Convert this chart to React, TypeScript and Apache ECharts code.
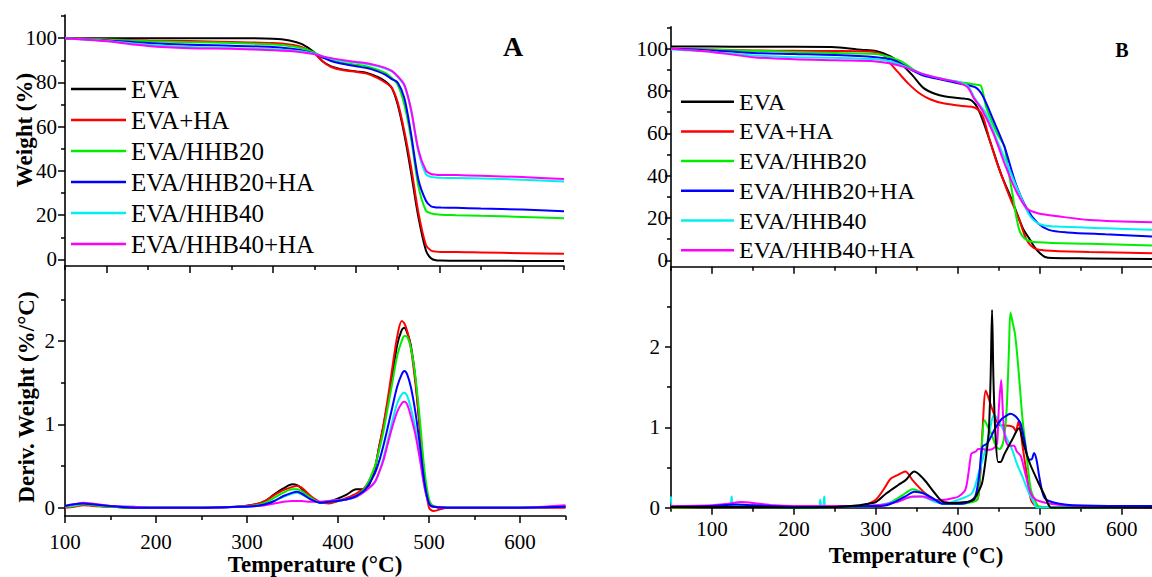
import React, { useEffect, useRef } from "react";
import * as echarts from "echarts";

const FONT = "Liberation Serif";

const NAMES = ["EVA", "EVA+HA", "EVA/HHB20", "EVA/HHB20+HA", "EVA/HHB40", "EVA/HHB40+HA"];
const COLORS = ["#000000", "#ff0000", "#00ee00", "#0000ff", "#00f0f0", "#ff00ff"];

// ---- tick values ----
const weightMajor = [0, 20, 40, 60, 80, 100];
const weightMinor = [10, 30, 50, 70, 90, 110];
const derivMajor = [0, 1, 2];
const derivMinor = [0.5, 1.5, 2.5];
const tempMajor = [100, 200, 300, 400, 500, 600];
const tempMinor = [50, 150, 250, 350, 450, 550, 650];

// ---- Panel A, weight (TGA) ----
const tA = [50, 100, 150, 200, 250, 300, 320, 335, 350, 360, 370, 385, 400, 413, 426, 435, 443, 450, 458, 466, 475, 484, 490, 496, 502, 520, 550, 600, 650];
const aW_EVA = [100, 100, 100, 100, 100, 99.8, 99, 97.3, 93.5, 89.5, 87.3, 85.8, 85, 84.3, 82.5, 80.5, 77.5, 70, 56.5, 39.5, 19, 4, 0.5, -0.4, -0.5, -0.6, -0.6, -0.7, -0.7];
const aW_EVAHA = [100, 99.5, 99, 98.7, 98.3, 97.8, 97.2, 96, 93, 89.5, 87, 85.5, 84.8, 84, 82, 80, 77.5, 71, 58, 42, 21, 6.5, 4, 3.5, 3.3, 3.3, 3.1, 2.8, 2.5];
const aW_H20 = [100, 99.3, 98.6, 98.2, 97.8, 97.2, 96.5, 95.5, 93.5, 91.5, 90, 88.8, 88, 87.2, 85.8, 84.3, 82, 79, 70, 55, 33, 22, 20.8, 20.4, 20.2, 20, 19.7, 19.2, 18.6];
const aW_H20HA = [100, 99, 97.8, 97, 96.6, 96, 95.3, 94.5, 93, 91.3, 89.7, 88.3, 87.3, 86.5, 85, 83.5, 81.5, 80, 73, 57, 36, 26.5, 24, 23.5, 23.4, 23.3, 23, 22.5, 21.8];
const aW_H40 = [100, 98.8, 97, 96, 95.5, 95, 94.5, 94, 93, 91.8, 90.8, 89.7, 89, 88.3, 87.3, 86.3, 85, 82.5, 78.5, 67.5, 48.5, 38.5, 37.3, 37, 36.9, 36.8, 36.6, 36, 35.2];
const aW_H40HA = [100, 98.6, 96.5, 95.5, 95.2, 94.6, 94.2, 93.6, 92.8, 91.8, 91, 90, 89.3, 88.7, 87.6, 86.6, 85.2, 82.8, 79, 68, 49.5, 40.2, 38.6, 38.3, 38.2, 38.1, 37.8, 37.2, 36.3];

// ---- Panel A, derivative weight (DTG) ----
const tAD = [100, 110, 120, 130, 150, 175, 200, 250, 290, 310, 320, 330, 340, 350, 355, 360, 370, 380, 390, 400, 410, 420, 430, 440, 445, 450, 455, 460, 465, 470, 473, 476, 480, 485, 490, 495, 500, 505, 520, 550, 575, 600, 650];
const aD_EVA = [0.01, 0.02, 0.04, 0.03, 0.01, 0, 0, 0, 0.01, 0.04, 0.08, 0.16, 0.23, 0.28, 0.27, 0.23, 0.12, 0.06, 0.07, 0.11, 0.16, 0.22, 0.22, 0.45, 0.72, 0.98, 1.28, 1.6, 1.95, 2.13, 2.16, 2.1, 1.95, 1.55, 0.95, 0.38, 0.05, 0.01, 0, 0, 0, 0, 0.01];
const aD_EVAHA = [0, 0.01, 0.03, 0.02, 0.01, 0, 0, 0, 0.01, 0.04, 0.08, 0.15, 0.21, 0.25, 0.26, 0.24, 0.14, 0.07, 0.05, 0.08, 0.12, 0.17, 0.25, 0.47, 0.72, 1.0, 1.33, 1.7, 2.05, 2.24, 2.21, 2.12, 1.92, 1.5, 0.95, 0.35, 0, -0.04, 0, 0, 0, 0, 0];
const aD_H20 = [0.01, 0.02, 0.04, 0.03, 0.01, 0, 0, 0, 0.01, 0.03, 0.06, 0.12, 0.18, 0.22, 0.22, 0.2, 0.12, 0.06, 0.07, 0.08, 0.1, 0.14, 0.24, 0.48, 0.68, 0.92, 1.22, 1.52, 1.82, 2.0, 2.06, 2.05, 1.92, 1.58, 1.05, 0.45, 0.1, 0.02, 0, 0, 0, 0, 0.01];
const aD_H20HA = [0.02, 0.04, 0.05, 0.04, 0.02, 0, 0, 0, 0.01, 0.02, 0.04, 0.08, 0.14, 0.18, 0.19, 0.17, 0.1, 0.06, 0.07, 0.08, 0.1, 0.14, 0.22, 0.4, 0.55, 0.75, 0.98, 1.22, 1.45, 1.6, 1.64, 1.6, 1.45, 1.15, 0.75, 0.3, 0.05, 0.01, 0, 0, 0, 0, 0.01];
const aD_H40 = [0.02, 0.03, 0.05, 0.04, 0.02, 0.01, 0, 0, 0.01, 0.02, 0.04, 0.08, 0.13, 0.17, 0.18, 0.16, 0.1, 0.07, 0.08, 0.09, 0.1, 0.13, 0.2, 0.3, 0.42, 0.6, 0.82, 1.05, 1.25, 1.36, 1.38, 1.34, 1.2, 0.95, 0.62, 0.25, 0.05, 0.01, 0, 0, 0, 0, 0.02];
const aD_H40HA = [0.02, 0.04, 0.06, 0.05, 0.02, 0.01, 0, 0, 0.01, 0.02, 0.03, 0.05, 0.07, 0.08, 0.08, 0.08, 0.07, 0.07, 0.08, 0.09, 0.1, 0.13, 0.2, 0.3, 0.42, 0.57, 0.78, 0.98, 1.15, 1.25, 1.27, 1.24, 1.1, 0.88, 0.58, 0.25, 0.05, 0.01, 0, 0, 0, 0, 0.03];

// ---- Panel B, weight (TGA) : [temperature, weight] ----
const bW_EVA = [[50, 101.1], [100, 101], [150, 100.9], [200, 100.9], [246, 100.8], [282, 99.5], [300, 98.9], [318, 96.4], [331, 92.8], [345, 87.3], [358, 81.5], [372, 78.7], [385, 77.4], [403, 76.6], [417, 75.5], [425.7, 70.8], [439, 56.7], [452.6, 41], [466, 28.5], [479.6, 15], [488.6, 9.5], [493, 6.6], [500, 3.5], [506.5, 1.6], [515.5, 1.1], [560, 0.9], [637, 0.6]];
const bW_EVAHA = [[50, 100], [100, 99.6], [150, 99.2], [200, 99], [250, 98.9], [291, 98.7], [300, 98.3], [309, 97], [318, 92.8], [327, 88.9], [340, 83.4], [354, 78.7], [367, 76], [381, 74.3], [403, 73], [421, 72.1], [430, 68.5], [439, 56.7], [448, 45.8], [461.6, 31.7], [475, 19.1], [484, 9.7], [493, 5.8], [506.5, 4.7], [560, 4], [637, 3.4]];
const bW_H20 = [[50, 100], [100, 99.5], [150, 99], [200, 98.5], [250, 98], [300, 97.5], [318, 95.9], [331, 94], [345, 90.4], [358, 87.8], [381, 85.4], [403, 84.2], [421, 83.1], [428, 82.6], [434.7, 72.4], [448, 59.9], [454, 56], [457, 54], [461, 44], [466, 33], [475, 14.4], [484, 9.7], [497.6, 8.5], [560, 7.8], [637, 7]];
const bW_H20HA = [[50, 100], [100, 99.2], [150, 98], [200, 97.5], [250, 97], [300, 96], [318, 95], [331, 92.8], [345, 89.7], [358, 87.3], [381, 85.3], [403, 83.4], [421, 81.8], [430, 78], [443.5, 66.2], [457, 53.6], [470.6, 36.4], [484, 24.6], [497.6, 17.6], [511, 14.4], [533.5, 13.2], [580, 12.3], [637, 11.3]];
const bW_H40 = [[50, 99.6], [100, 98.5], [150, 96.8], [200, 96], [250, 95.7], [300, 95], [318, 94], [336, 91.5], [358, 88], [381, 85.8], [399, 84.5], [412, 82.5], [421, 76.3], [434.7, 69.3], [448, 56.7], [461.6, 44.2], [475, 31.7], [488.6, 20.7], [502, 16.8], [520, 16], [580, 15.2], [637, 14.4]];
const bW_H40HA = [[50, 100], [100, 98.5], [150, 96], [200, 95], [250, 94.5], [300, 94], [318, 93], [336, 91.2], [358, 88], [381, 85.7], [399, 84.2], [412, 81.8], [419, 77], [430, 70.8], [443.5, 59.9], [457, 45.8], [470.6, 33.2], [484, 24.6], [497.6, 22.3], [524.5, 20.7], [560, 19.1], [637, 18]];

// ---- Panel B, derivative weight (DTG) : [temperature, %/°C] ----
const bD_EVA = [[50, 0.01], [100, 0.01], [150, 0.01], [200, 0], [250, 0.01], [280, 0.03], [291, 0.05], [300, 0.07], [313, 0.18], [327, 0.28], [336, 0.34], [347, 0.45], [358, 0.36], [372, 0.18], [381, 0.08], [395, 0.06], [410, 0.07], [419.3, 0.1], [425, 0.2], [429.5, 0.3], [434, 0.6], [437.7, 0.93], [440, 1.6], [441.8, 2.46], [443.5, 1.6], [446, 0.9], [449.2, 0.57], [452, 0.57], [457, 0.67], [466, 0.84], [474.6, 0.99], [480, 0.8], [488, 0.55], [498, 0.32], [506, 0.15], [511, 0.03], [514, 0], [560, 0], [637, 0]];
const bD_EVAHA = [[50, 0], [100, 0.01], [150, 0.02], [200, 0.01], [250, 0.01], [282, 0.02], [291, 0.05], [300, 0.1], [309, 0.22], [318, 0.36], [327, 0.41], [331, 0.43], [336, 0.45], [345, 0.34], [358, 0.2], [372, 0.095], [381, 0.06], [403, 0.05], [418, 0.08], [423.9, 0.1], [426.8, 0.3], [430, 0.93], [434.2, 1.46], [438, 1.35], [442.3, 1.22], [450.5, 1.03], [462.7, 1.02], [468, 1.0], [470.9, 0.95], [474, 1.07], [476, 1.0], [479, 0.77], [485, 0.36], [489.3, 0.1], [495.5, 0.02], [510, 0.01], [560, 0.01], [637, 0]];
const bD_H20 = [[50, 0], [100, 0.01], [150, 0.01], [200, 0], [250, 0.01], [300, 0.02], [313, 0.04], [327, 0.12], [336, 0.18], [345, 0.23], [358, 0.18], [372, 0.1], [381, 0.05], [403, 0.05], [418, 0.07], [423.4, 0.1], [425.7, 0.2], [428, 0.55], [432.8, 1.09], [437, 1.0], [441, 0.92], [446, 0.78], [450.8, 0.73], [455, 0.8], [458, 1.0], [460.2, 1.34], [462.5, 2.0], [464.3, 2.43], [467, 2.3], [469.7, 2.17], [472.5, 1.9], [475.4, 1.55], [479, 1.1], [482.8, 0.77], [488.9, 0.24], [495.1, 0.07], [500, 0.01], [560, 0], [637, 0.01]];
const bD_H20HA = [[50, 0.01], [100, 0.02], [130, 0.04], [150, 0.03], [200, 0.01], [250, 0.01], [300, 0.02], [313, 0.03], [336, 0.14], [347, 0.2], [358, 0.18], [372, 0.1], [381, 0.05], [403, 0.05], [415, 0.08], [421.3, 0.14], [426, 0.39], [430, 0.76], [436, 0.8], [446.3, 1.0], [454.1, 1.11], [460, 1.15], [464.3, 1.17], [469, 1.15], [473, 1.11], [476.6, 1.05], [481, 0.85], [486.9, 0.6], [490, 0.6], [493, 0.68], [496, 0.6], [499.2, 0.4], [503, 0.2], [506, 0.12], [512, 0.08], [524, 0.05], [540, 0.03], [600, 0.02], [637, 0.02]];
const bD_H40 = [[50, 0.14], [52, 0.02], [100, 0.02], [122, 0.03], [124, 0.14], [126, 0.03], [150, 0.03], [200, 0.01], [230, 0.01], [232, 0.1], [234, 0.01], [236, 0.02], [237, 0.14], [239, 0.02], [260, 0.02], [300, 0.03], [320, 0.07], [336, 0.12], [354, 0.14], [372, 0.075], [385, 0.05], [400.8, 0.1], [417.2, 0.18], [425.4, 0.43], [433.6, 0.72], [439.8, 1.0], [443.9, 1.15], [448, 1.12], [454, 1.0], [460, 0.86], [466.4, 0.72], [472, 0.55], [478.7, 0.39], [487, 0.18], [493, 0.06], [497, 0], [520, 0.01], [560, 0.01], [637, 0.02]];
const bD_H40HA = [[50, 0.02], [100, 0.03], [120, 0.05], [135, 0.07], [150, 0.06], [175, 0.03], [200, 0.02], [250, 0.02], [300, 0.03], [327, 0.075], [345, 0.14], [358, 0.14], [372, 0.095], [385, 0.1], [395, 0.12], [400.8, 0.14], [409, 0.22], [413, 0.43], [416.4, 0.67], [419.3, 0.69], [422, 0.7], [425, 0.73], [430, 0.73], [436, 0.72], [442, 0.73], [446, 0.76], [448, 0.8], [450, 1.22], [452.9, 1.59], [454.5, 1.3], [456.1, 1.0], [459, 0.82], [462.7, 0.77], [468.4, 0.77], [472, 0.7], [477, 0.64], [483.2, 0.39], [488.9, 0.18], [495.1, 0.1], [507.4, 0.06], [520, 0.04], [540, 0.025], [600, 0.02], [637, 0.02]];

const zip = (xs: number[], ys: number[]) => xs.map((x, i) => [x, ys[i]]);

const axisPair = (
  gridIndex: number,
  min: number,
  max: number,
  major: number[],
  minor: number[],
  showLabel: boolean,
  margin: number,
  position: string,
  majorLen: number
) => {
  const inR = (v: number) => v >= min - 1e-9 && v <= max + 1e-9;
  const base: any = { type: "value", gridIndex, min, max, position, splitLine: { show: false }, minorTick: { show: false } };
  return [
    {
      ...base,
      axisLine: { show: true, onZero: false, lineStyle: { color: "#000", width: 1.6 } },
      axisTick: { show: true, inside: false, length: majorLen, customValues: major.filter(inR), lineStyle: { color: "#000", width: 1.5 } },
      axisLabel: { show: showLabel, margin, customValues: major.filter(inR), color: "#000", fontFamily: FONT, fontSize: 21 },
    },
    {
      ...base,
      axisLine: { show: false, onZero: false },
      axisTick: { show: true, inside: false, length: 4, customValues: minor.filter(inR), lineStyle: { color: "#000", width: 1.5 } },
      axisLabel: { show: false },
    },
  ];
};

export default function App() {
  const ref = useRef<HTMLDivElement>(null);
  useEffect(() => {
    if (!ref.current) return;
    const chart = echarts.init(ref.current, undefined, { renderer: "svg" });

    const aW = [aW_EVA, aW_EVAHA, aW_H20, aW_H20HA, aW_H40, aW_H40HA];
    const aD = [aD_EVA, aD_EVAHA, aD_H20, aD_H20HA, aD_H40, aD_H40HA];
    const bW = [bW_EVA, bW_EVAHA, bW_H20, bW_H20HA, bW_H40, bW_H40HA];
    const bD = [bD_EVA, bD_EVAHA, bD_H20, bD_H20HA, bD_H40, bD_H40HA];

    const line = (i: number, g: number, data: any[]) => ({
      type: "line",
      name: NAMES[i],
      xAxisIndex: 2 * g,
      yAxisIndex: 2 * g,
      data,
      showSymbol: false,
      symbol: "none",
      smooth: 0.3,
      lineStyle: { color: COLORS[i], width: 2 },
      itemStyle: { color: COLORS[i] },
      emphasis: { disabled: true },
    });

    const orderA = [0, 1, 2, 3, 4, 5];
    const orderAD = [0, 1, 2, 4, 5, 3];
    const orderBD = [1, 2, 4, 5, 3, 0];

    const series: any[] = [];
    orderA.forEach((i) => series.push(line(i, 0, zip(tA, aW[i]))));
    orderAD.forEach((i) => series.push(line(i, 1, zip(tAD, aD[i]))));
    orderA.forEach((i) => series.push(line(i, 2, bW[i])));
    orderBD.forEach((i) => series.push(line(i, 3, bD[i])));

    const legendBase = {
      orient: "vertical",
      padding: 0,
      icon: "rect",
      itemHeight: 2.5,
      selectedMode: false,
      data: NAMES,
    };

    const txt = (text: string, x: number, y: number, size: number, rot = 0) => ({
      type: "text",
      x,
      y,
      rotation: rot,
      style: { text, font: `bold ${size}px "${FONT}"`, fill: "#000", align: "center", verticalAlign: "middle" },
    });

    chart.setOption({
      animation: false,
      backgroundColor: "#fff",
      grid: [
        { left: 65, top: 15, width: 499, height: 251 },
        { left: 65, top: 266, width: 500.5, height: 250 },
        { left: 671, top: 26.7, width: 481, height: 240 },
        { left: 671, top: 266.7, width: 481, height: 241 },
      ],
      xAxis: [
        ...axisPair(0, 50, 650, tempMajor, tempMinor, false, 10, "bottom", 7),
        ...axisPair(1, 100, 650, tempMajor, tempMinor, true, 15, "bottom", 7),
        ...axisPair(2, 50, 637, tempMajor, tempMinor, false, 10, "bottom", 7),
        ...axisPair(3, 50, 637, tempMajor, tempMinor, true, 11, "bottom", 7),
      ],
      yAxis: [
        ...axisPair(0, -3, 110.5, weightMajor, weightMinor, true, 8, "left", 7),
        ...axisPair(1, -0.1, 2.9, derivMajor, derivMinor, true, 10, "left", 7),
        ...axisPair(2, -3, 110.4, weightMajor, weightMinor, true, 3, "left", 6),
        ...axisPair(3, 0, 3, derivMajor, derivMinor, true, 11, "left", 6),
      ],
      legend: [
        { ...legendBase, left: 71, top: 76.5, itemWidth: 55, itemGap: 6, textStyle: { fontFamily: FONT, fontSize: 25, lineHeight: 25, color: "#000" } },
        { ...legendBase, left: 681, top: 89.7, itemWidth: 53, itemGap: 5.7, textStyle: { fontFamily: FONT, fontSize: 24, lineHeight: 24, color: "#000" } },
      ],
      graphic: [
        txt("Weight (%)", 24, 130, 23, Math.PI / 2),
        txt("Deriv. Weight (%/°C)", 26, 397, 23, Math.PI / 2),
        txt("Temperature (°C)", 315, 564, 23),
        txt("Temperature (°C)", 916, 555, 23),
        txt("A", 513, 46, 28),
        txt("B", 1122, 50, 20),
      ],
      series,
    });

    return () => chart.dispose();
  }, []);

  return (
    <div
      ref={ref}
      style={{ position: "absolute", left: 0, top: 0, width: 1152, height: 577, background: "#fff" }}
    />
  );
}
